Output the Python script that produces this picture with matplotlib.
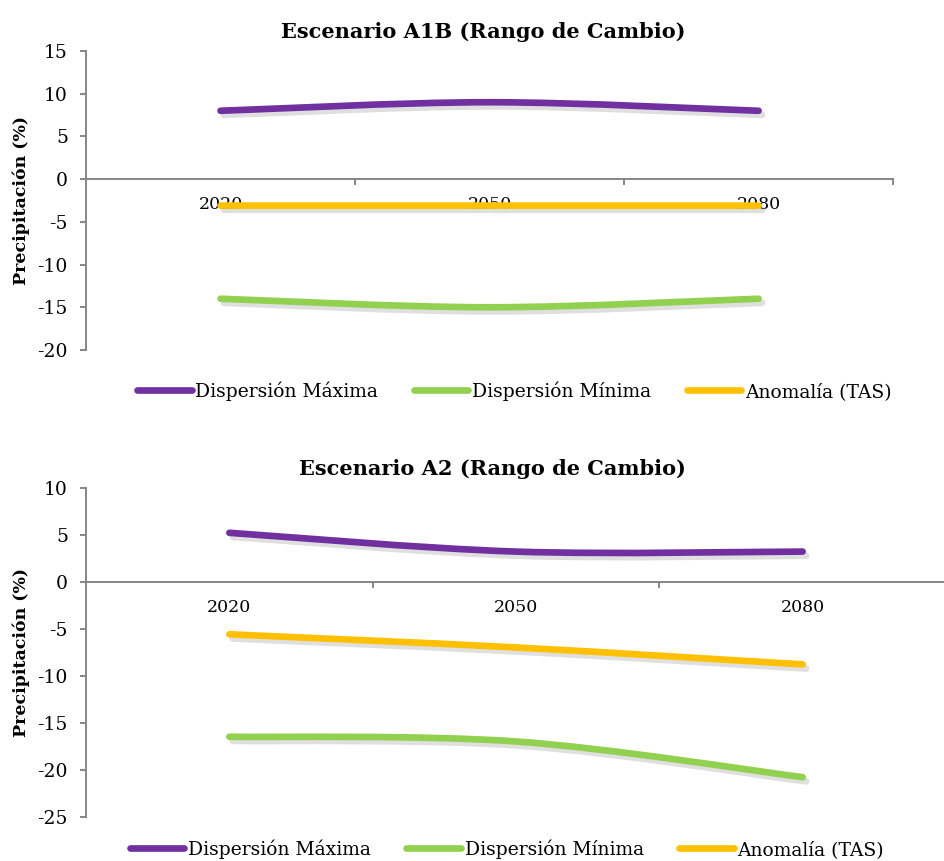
import matplotlib
matplotlib.use("Agg")
import matplotlib.pyplot as plt
from matplotlib.path import Path
from matplotlib.patches import PathPatch
from matplotlib.lines import Line2D
import matplotlib.patheffects as pe

years = ["2020", "2050", "2080"]
series_names = ["Dispersión Máxima", "Dispersión Mínima", "Anomalía (TAS)"]
colors = ["#7030A0", "#92D050", "#FFC000"]

a1b_max = [8.0, 9.0, 8.0]
a1b_min = [-14.0, -15.0, -14.0]
a1b_tas = [-3.1, -3.1, -3.1]

a2_max = [5.2, 3.2, 3.2]
a2_min = [-16.5, -17.0, -20.8]
a2_tas = [-5.6, -7.0, -8.8]

AXIS_GRAY = "#868686"
SERIF = "DejaVu Serif"
plt.rcParams["font.family"] = [SERIF]
plt.rcParams["axes.unicode_minus"] = False


def smooth_path(xs, ys):
    # Excel-style smoothed line as cubic bezier segments
    n = len(xs)
    verts = [(xs[0], ys[0])]
    codes = [Path.MOVETO]
    for i in range(n - 1):
        i0 = max(i - 1, 0)
        i3 = min(i + 2, n - 1)
        c1 = (xs[i] + (xs[i + 1] - xs[i0]) / 6.0, ys[i] + (ys[i + 1] - ys[i0]) / 6.0)
        c2 = (xs[i + 1] - (xs[i3] - xs[i]) / 6.0, ys[i + 1] - (ys[i3] - ys[i]) / 6.0)
        verts += [c1, c2, (xs[i + 1], ys[i + 1])]
        codes += [Path.CURVE4] * 3
    return Path(verts, codes)


def draw_chart(ax, title, title_x, data, ylim, legend_pos):
    xs = list(range(len(years)))
    for vals, col in zip(data, colors):
        patch = PathPatch(smooth_path(xs, vals), fill=False, edgecolor=col,
                          lw=4.8, capstyle="round", joinstyle="round", zorder=3)
        patch.set_path_effects([
            pe.SimpleLineShadow(offset=(2.5, -3), shadow_color="#8c8c8c", alpha=0.28),
            pe.Normal(),
        ])
        ax.add_patch(patch)

    ax.set_xlim(-0.5, len(years) - 0.5)
    ax.set_ylim(*ylim)
    yt = list(range(ylim[0], ylim[1] + 1, 5))
    ax.set_yticks(yt)
    ax.set_yticklabels([str(v) for v in yt], fontfamily=SERIF, fontsize=13.5)

    for s in ["top", "right"]:
        ax.spines[s].set_visible(False)
    ax.spines["bottom"].set_position(("data", 0))
    for s in ["left", "bottom"]:
        ax.spines[s].set_color(AXIS_GRAY)
        ax.spines[s].set_linewidth(1.4)

    ax.set_xticks([0.5, 1.5, 2.5])
    ax.set_xticklabels([])
    ax.set_xticks(xs, minor=True)
    ax.set_xticklabels(years, minor=True, fontfamily=SERIF)
    ax.tick_params(axis="x", which="major", direction="out", length=4,
                   width=1.4, color=AXIS_GRAY)
    ax.tick_params(axis="x", which="minor", length=0, pad=12.5, labelsize=12.5)
    ax.tick_params(axis="y", direction="out", length=4, width=1.4,
                   color=AXIS_GRAY, pad=9)

    ax.set_title(title, x=title_x, fontsize=15, fontweight="bold", pad=9)
    ax.set_ylabel("Precipitación (%)", fontsize=12.5, fontweight="bold", labelpad=5)

    handles = [Line2D([], [], color=c, lw=4.8, solid_capstyle="round") for c in colors]
    ax.legend(handles, series_names, loc="center", bbox_to_anchor=legend_pos,
              bbox_transform=ax.figure.transFigure, ncol=3, frameon=False,
              fontsize=13.5, handlelength=2.9, handletextpad=0.2, columnspacing=1.9)


fig = plt.figure(figsize=(9.44, 8.61), dpi=100)
ax1 = fig.add_axes([0.0911, 0.5935, 0.855, 0.3473])
ax2 = fig.add_axes([0.0911, 0.0515, 0.911, 0.3821])

draw_chart(ax1, "Escenario A1B (Rango de Cambio)", 0.492,
           [a1b_max, a1b_min, a1b_tas], (-20, 15), (0.545, 0.546))
draw_chart(ax2, "Escenario A2 (Rango de Cambio)", 0.473,
           [a2_max, a2_min, a2_tas], (-25, 10), (0.537, 0.014))

fig.savefig("out.png", dpi=100)
